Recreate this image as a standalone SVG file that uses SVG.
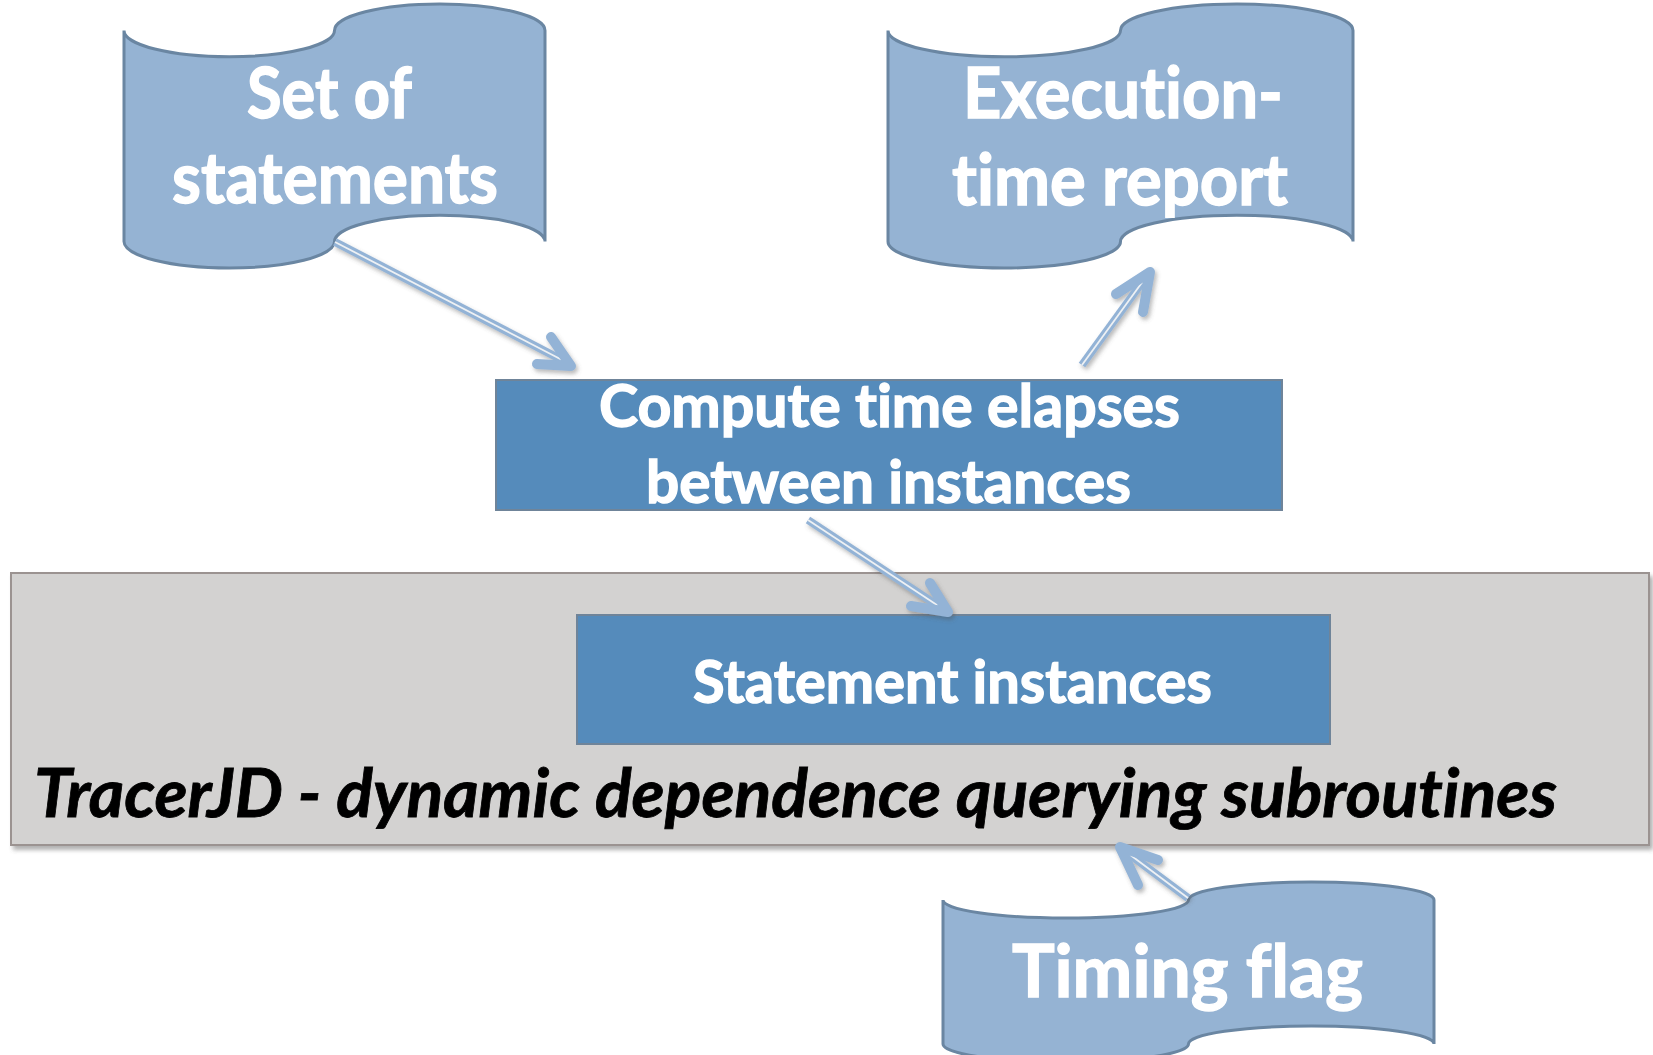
<svg xmlns="http://www.w3.org/2000/svg" width="1653" height="1055" viewBox="0 0 1653 1055">
<style>
.tape{fill:#95B3D3;stroke:#6A86A2;stroke-width:3}
.box{fill:#558BBB;stroke:#6F8499;stroke-width:2}
.wt{fill:#FFFFFF;stroke:#FFFFFF;stroke-width:1.4;font-family:Lato,"Open Sans",sans-serif;font-weight:bold;font-variant-ligatures:none}
.bt{fill:#000000;stroke:#000000;stroke-width:0.8;font-family:Lato,"Open Sans",sans-serif;font-weight:bold;font-style:italic;font-variant-ligatures:none}
.ln{fill:none;stroke:#93B3D6;stroke-width:8}
.lnw{fill:none;stroke:#EEF1F4;stroke-width:1.8}
.hd{fill:none;stroke:#93B3D6;stroke-width:10;stroke-linecap:round;stroke-linejoin:round}
</style>
<defs>
<filter id="sh" x="-20%" y="-20%" width="140%" height="140%">
<feDropShadow dx="3" dy="4" stdDeviation="2" flood-color="#555555" flood-opacity="0.45"/>
</filter>
<filter id="ash" x="-20%" y="-20%" width="140%" height="140%">
<feDropShadow dx="2" dy="3" stdDeviation="2" flood-color="#555555" flood-opacity="0.4"/>
</filter>
</defs>
<rect width="1653" height="1055" fill="#FFFFFF"/>

<g id="tracerjd">
<rect x="11" y="573" width="1638" height="272" fill="#D3D2D1" stroke="#9B9391" stroke-width="2" filter="url(#sh)"/>
<text class="bt" x="34" y="817" font-size="66" textLength="1523" lengthAdjust="spacingAndGlyphs">TracerJD - dynamic dependence querying subroutines</text>
</g>

<g id="set-of-statements">
<path class="tape" d="M124,30.4 A105.25,26.4 0 0 0 334.5,30.4 A105.25,26.4 0 0 1 545,30.4 L545,241.6 A105.25,26.4 0 0 0 334.5,241.6 A105.25,26.4 0 0 1 124,241.6 Z"/>
<text class="wt" x="247" y="118" font-size="70" textLength="165" lengthAdjust="spacingAndGlyphs">Set of</text>
<text class="wt" x="172" y="203" font-size="70" textLength="326" lengthAdjust="spacingAndGlyphs">statements</text>
</g>

<g id="execution-time-report">
<path class="tape" d="M888,30.4 A116.25,26.4 0 0 0 1120.5,30.4 A116.25,26.4 0 0 1 1353,30.4 L1353,241.6 A116.25,26.4 0 0 0 1120.5,241.6 A116.25,26.4 0 0 1 888,241.6 Z"/>
<text class="wt" x="963" y="118" font-size="70" textLength="320" lengthAdjust="spacingAndGlyphs">Execution-</text>
<text class="wt" x="952" y="205" font-size="70" textLength="336" lengthAdjust="spacingAndGlyphs">time report</text>
</g>

<g id="compute">
<rect class="box" x="496" y="380" width="786" height="130"/>
<text class="wt" x="599" y="427" font-size="60" textLength="581" lengthAdjust="spacingAndGlyphs">Compute time elapses</text>
<text class="wt" x="646" y="503" font-size="60" textLength="485" lengthAdjust="spacingAndGlyphs">between instances</text>
</g>

<g id="statement-instances">
<rect class="box" x="577" y="615" width="753" height="129"/>
<text class="wt" x="693" y="703" font-size="60" textLength="519" lengthAdjust="spacingAndGlyphs">Statement instances</text>
</g>

<g id="timing-flag">
<path class="tape" d="M943,900 A122.75,18 0 0 0 1188.5,900 A122.75,18 0 0 1 1434,900 L1434,1044 A122.75,18 0 0 0 1188.5,1044 A122.75,18 0 0 1 943,1044 Z"/>
<text class="wt" x="1012" y="997" font-size="72" textLength="351" lengthAdjust="spacingAndGlyphs">Timing flag</text>
</g>

<g id="connectors">
<g filter="url(#ash)">
<path class="ln" d="M335,242 L566,362"/>
<path class="lnw" d="M335,242 L566,362"/>
<path class="hd" d="M551,337 L571,366 L537,364"/>
</g>
<g filter="url(#ash)">
<path class="ln" d="M1082,365 L1146,277"/>
<path class="lnw" d="M1082,365 L1146,277"/>
<path class="hd" d="M1116,294 L1150,272 L1143,312"/>
</g>
<g filter="url(#ash)">
<path class="ln" d="M808,520 L943,609"/>
<path class="lnw" d="M808,520 L943,609"/>
<path class="hd" d="M930,583 L948,612 L911,606"/>
</g>
<g filter="url(#ash)">
<path class="ln" d="M1188,898 L1125,851"/>
<path class="lnw" d="M1188,898 L1125,851"/>
<path class="hd" d="M1138,885 L1120,847 L1158,860"/>
</g>
</g>
</svg>
